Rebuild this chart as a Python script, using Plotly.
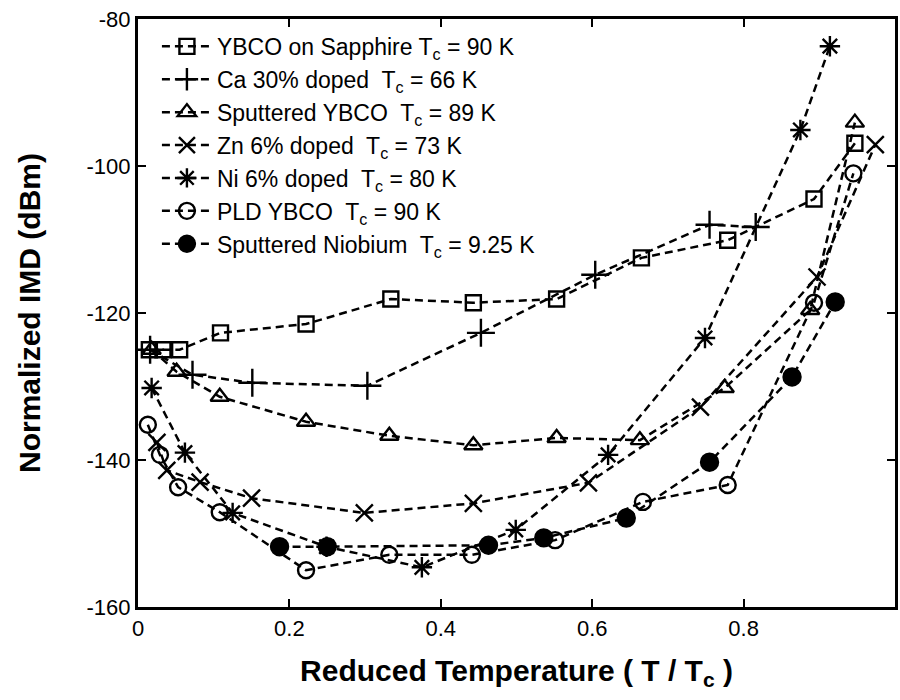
import plotly.graph_objects as go

# Reduced temperature (T/Tc) and normalized IMD (dBm) for each sample
x_sapphire = [0.015, 0.033, 0.055, 0.109, 0.222, 0.334, 0.443, 0.553, 0.665, 0.779, 0.893, 0.947]
y_sapphire = [-125.0, -125.0, -125.0, -122.7, -121.5, -118.1, -118.6, -118.1, -112.5, -110.1, -104.5, -96.9]

x_ca = [0.016, 0.072, 0.151, 0.303, 0.453, 0.604, 0.755, 0.816]
y_ca = [-125.0, -128.4, -129.5, -129.9, -122.7, -114.8, -108.0, -108.3]

x_sput = [0.018, 0.051, 0.108, 0.222, 0.332, 0.443, 0.553, 0.663, 0.775, 0.888, 0.947]
y_sput = [-125.0, -128.0, -131.4, -134.8, -136.7, -138.0, -137.0, -137.3, -130.2, -119.6, -94.1]

x_zn = [0.025, 0.038, 0.082, 0.150, 0.299, 0.443, 0.595, 0.743, 0.897, 0.974]
y_zn = [-137.6, -141.4, -143.0, -145.2, -147.2, -145.9, -143.1, -132.8, -115.1, -97.1]

x_ni = [0.018, 0.062, 0.125, 0.249, 0.375, 0.499, 0.621, 0.749, 0.875, 0.914]
y_ni = [-130.2, -139.0, -147.2, -151.8, -154.6, -149.5, -139.3, -123.4, -95.1, -83.7]

x_pld = [0.013, 0.029, 0.053, 0.108, 0.222, 0.332, 0.441, 0.551, 0.667, 0.779, 0.893, 0.945]
y_pld = [-135.2, -139.3, -143.7, -147.1, -155.0, -152.9, -152.9, -150.9, -145.7, -143.4, -118.6, -101.0]

x_nb = [0.187, 0.250, 0.463, 0.536, 0.645, 0.755, 0.864, 0.921]
y_nb = [-151.8, -151.8, -151.6, -150.6, -147.9, -140.3, -128.7, -118.5]

names = [
    "YBCO on Sapphire T<sub>c</sub> = 90 K",
    "Ca 30% doped  T<sub>c</sub> = 66 K",
    "Sputtered YBCO  T<sub>c</sub> = 89 K",
    "Zn 6% doped  T<sub>c</sub> = 73 K",
    "Ni 6% doped  T<sub>c</sub> = 80 K",
    "PLD YBCO  T<sub>c</sub> = 90 K",
    "Sputtered Niobium  T<sub>c</sub> = 9.25 K",
]
x_ticks = [0, 0.2, 0.4, 0.6, 0.8, 1]
x_tick_labels = ["0", "0.2", "0.4", "0.6", "0.8", "1"]
y_ticks = [-160, -140, -120, -100, -80]
y_tick_labels = ["-160", "-140", "-120", "-100", "-80"]

xs = [x_sapphire, x_ca, x_sput, x_zn, x_ni, x_pld, x_nb]
ys = [y_sapphire, y_ca, y_sput, y_zn, y_ni, y_pld, y_nb]
symbols = ["square-open", "cross-thin-open", "triangle-up-open", "x-thin-open",
           "asterisk-open", "circle-open", "circle"]
sizes = [15, 20, 16, 17, 17, 16, 17]

fig = go.Figure()
for name, x, y, sym, sz in zip(names, xs, ys, symbols, sizes):
    fig.add_trace(go.Scatter(
        x=x, y=y, name=name, mode="lines+markers",
        line=dict(color="black", width=2.5, dash="8px,5px"),
        marker=dict(symbol=sym, size=sz, color="black",
                    line=dict(color="black", width=2.4)),
        cliponaxis=False,
    ))

axis_common = dict(
    showline=True, linecolor="black", linewidth=3, mirror="ticks",
    ticks="inside", ticklen=8, tickwidth=2, tickcolor="black",
    showgrid=False, zeroline=False,
    tickfont=dict(family="Liberation Sans, Arial, sans-serif", size=22, color="black"),
)

fig.update_layout(
    width=900, height=700,
    margin=dict(l=138, r=2, t=19, b=93),
    paper_bgcolor="white", plot_bgcolor="white",
    font=dict(family="Liberation Sans, Arial, sans-serif", color="black"),
    xaxis=dict(range=[0, 1], tickvals=x_ticks, ticktext=x_tick_labels,
               title=dict(text="<b>Reduced Temperature ( T / T<sub>c</sub> )</b>",
                          font=dict(size=30), standoff=20),
               **axis_common),
    yaxis=dict(range=[-160, -80], tickvals=y_ticks, ticktext=y_tick_labels,
               title=dict(text="<b>Normalized IMD (dBm)</b>", font=dict(size=30),
                          standoff=38),
               **axis_common),
    legend=dict(x=0.025, y=0.99, xanchor="left", yanchor="top",
                bgcolor="rgba(0,0,0,0)", borderwidth=0,
                font=dict(size=23), itemwidth=50, tracegroupgap=0),
    showlegend=True,
)

fig.write_html("out.html")
